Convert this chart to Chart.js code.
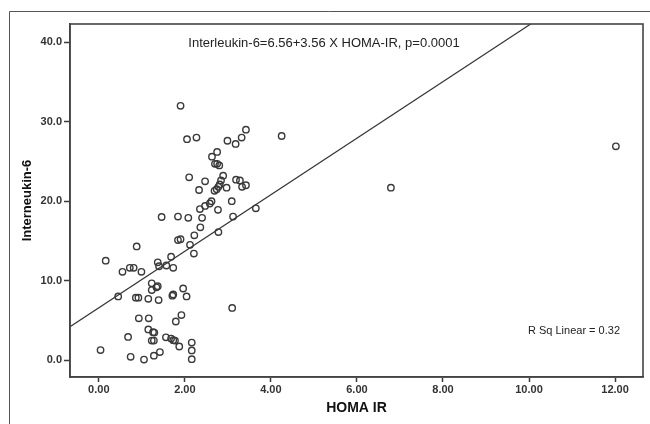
<!DOCTYPE html>
<html>
<head>
<meta charset="utf-8">
<title>HOMA IR vs Interleukin-6</title>
<script src="https://cdn.jsdelivr.net/npm/chart.js@4/dist/chart.umd.min.js"></script>
<style>
  html, body { margin: 0; padding: 0; background: #fff; }
  #wrap { width: 650px; height: 424px; }
</style>
</head>
<body>
<div id="wrap"><canvas id="scatter" width="650" height="424"></canvas></div>
<script>
// Scatter of HOMA IR vs Interleukin-6 with linear fit

// --- data
const homaIR = [
  1.90, 2.05, 2.27, 2.99, 3.18, 3.32, 3.42, 4.25, 2.75, 2.63,
  2.70, 2.75, 2.80, 2.10, 2.47, 2.33, 2.89, 2.84, 2.81, 2.78,
  2.74, 2.69, 2.97, 3.19, 3.28, 3.33, 3.42, 3.09, 2.62, 2.58,
  2.47, 2.35, 2.77, 3.65, 1.46, 1.84, 2.08, 2.40, 3.12, 2.36,
  2.22, 2.78, 2.12, 2.21, 1.84, 1.90, 0.88, 0.16, 1.68, 1.37,
  1.40, 1.57, 1.73, 0.55, 0.72, 0.81, 0.99, 0.45, 0.86, 0.92,
  1.15, 1.39, 1.23, 1.23, 1.34, 1.37, 1.73, 1.71, 1.96, 2.04,
  3.10, 0.93, 1.16, 1.92, 1.79, 1.15, 1.26, 1.29, 0.68, 1.23,
  1.28, 1.56, 1.68, 1.73, 1.77, 1.87, 2.16, 2.16, 2.16, 1.42,
  1.28, 1.05, 0.74, 0.04, 6.79, 12.02
];
const interleukin6 = [
  32.0, 27.8, 28.0, 27.6, 27.2, 28.0, 29.0, 28.2, 26.2, 25.6,
  24.7, 24.7, 24.5, 23.0, 22.5, 21.4, 23.2, 22.6, 22.1, 21.8,
  21.5, 21.3, 21.7, 22.7, 22.6, 21.8, 22.0, 20.0, 20.0, 19.7,
  19.4, 19.0, 18.9, 19.1, 18.0, 18.05, 17.9, 17.9, 18.05, 16.7,
  15.7, 16.1, 14.5, 13.4, 15.1, 15.2, 14.3, 12.5, 13.0, 12.3,
  11.8, 11.9, 11.6, 11.1, 11.6, 11.6, 11.1, 8.0, 7.85, 7.85,
  7.7, 7.55, 9.65, 8.8, 9.15, 9.3, 8.25, 8.1, 9.0, 8.0,
  6.55, 5.25, 5.25, 5.65, 4.85, 3.85, 3.5, 3.45, 2.9, 2.45,
  2.45, 2.85, 2.7, 2.5, 2.45, 1.7, 2.2, 1.2, 0.1, 1.0,
  0.55, 0.05, 0.4, 1.25, 21.7, 26.9
];

// fit from the printed equation: IL-6 = 6.56 + 3.56 * HOMA-IR
const fitIntercept = 6.56;
const fitSlope = 3.56;

const xTicks = [0, 2, 4, 6, 8, 10, 12];
const yTicks = [0, 10, 20, 30, 40];
const xMin = -0.67, xMax = 12.65;
const yMin = -2.14, yMax = 42.3;

const equationText = 'Interleukin-6=6.56+3.56 X HOMA-IR, p=0.0001';
const rsqText = 'R Sq Linear = 0.32';

const INK = '#3a3a3a';
const FONT = "'Liberation Sans', Arial, sans-serif";

// --- build datasets
const points = homaIR.map((x, i) => ({x, y: interleukin6[i]}));
const fitLine = [xMin, xMax].map(x => ({x, y: fitIntercept + fitSlope * x}));

// frames + in-plot texts
const framePlugin = {
  id: 'frames',
  beforeDraw(chart){
    const ctx = chart.ctx;
    ctx.save();
    ctx.fillStyle = '#fff';
    ctx.fillRect(0, 0, chart.width, chart.height);
    // outer box (runs off the right and bottom of the picture)
    ctx.strokeStyle = '#555';
    ctx.lineWidth = 1;
    ctx.beginPath();
    ctx.moveTo(9.5, chart.height);
    ctx.lineTo(9.5, 11.5);
    ctx.lineTo(chart.width, 11.5);
    ctx.stroke();
    ctx.restore();
  },
  afterDraw(chart){
    const {ctx, chartArea: a} = chart;
    ctx.save();
    ctx.strokeStyle = '#444';
    ctx.lineWidth = 1.6;
    ctx.strokeRect(a.left, a.top, a.right - a.left, a.bottom - a.top);

    ctx.fillStyle = '#222';
    ctx.textBaseline = 'middle';
    ctx.font = '13px ' + FONT;
    ctx.textAlign = 'center';
    ctx.fillText(equationText, 324, 43);

    ctx.font = '11px ' + FONT;
    ctx.textAlign = 'right';
    ctx.fillText(rsqText, 620, 331);
    ctx.restore();
  }
};

const ctx = document.getElementById('scatter').getContext('2d');
const chart = new Chart(ctx, {
  type: 'scatter',
  data: {
    datasets: [
      {
        type: 'line',
        data: fitLine,
        borderColor: '#333',
        borderWidth: 1.2,
        pointRadius: 0,
        fill: false,
        order: 2
      },
      {
        data: points,
        pointStyle: 'circle',
        pointRadius: 3.2,
        pointBorderWidth: 1.4,
        pointBorderColor: INK,
        pointBackgroundColor: 'rgba(0,0,0,0)',
        order: 1
      }
    ]
  },
  options: {
    responsive: false,
    animation: false,
    layout: {padding: {left: 0, top: 24, right: 7, bottom: 0}},
    plugins: {legend: {display: false}, tooltip: {enabled: false}},
    scales: {
      x: {
        type: 'linear',
        min: xMin, max: xMax,
        afterBuildTicks: s => { s.ticks = xTicks.map(v => ({value: v})); },
        afterFit: s => { s.height = 47; },
        grid: {drawOnChartArea: false, tickLength: 5, tickColor: INK, tickWidth: 1.5},
        border: {color: '#444', width: 1.6},
        ticks: {
          color: '#333', padding: 1,
          font: {family: FONT, size: 11, weight: 'bold'},
          callback: v => Number(v).toFixed(2)
        },
        title: {
          display: true, text: 'HOMA IR', color: '#111',
          font: {family: FONT, size: 14, weight: 'bold'},
          padding: {top: 0, bottom: 7}
        }
      },
      y: {
        type: 'linear',
        min: yMin, max: yMax,
        afterBuildTicks: s => { s.ticks = yTicks.map(v => ({value: v})); },
        afterFit: s => { s.width = 70; },
        grid: {drawOnChartArea: false, tickLength: 6, tickColor: INK, tickWidth: 1.5},
        border: {color: '#444', width: 1.6},
        ticks: {
          color: '#333', padding: 2,
          font: {family: FONT, size: 11, weight: 'bold'},
          callback: v => Number(v).toFixed(1)
        },
        title: {
          display: true, text: 'Interneukin-6', color: '#111',
          font: {family: FONT, size: 13, weight: 'bold'},
          padding: {top: 20, bottom: 0}
        }
      }
    }
  },
  plugins: [framePlugin]
});
</script>
</body>
</html>
